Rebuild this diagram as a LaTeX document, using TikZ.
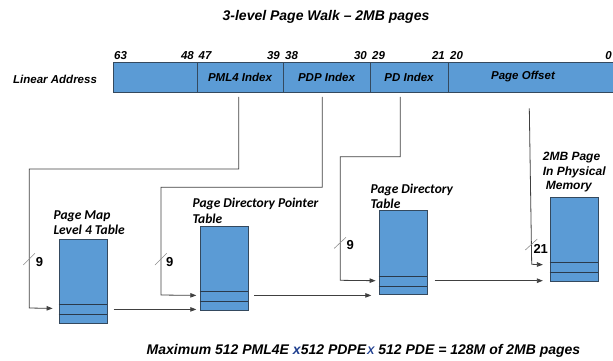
\documentclass[tikz,border=0pt]{standalone}
\usepackage{fontspec}
\setmainfont{Liberation Sans}
\newfontfamily\tblfont{Carlito}
\usetikzlibrary{arrows.meta,calc}
\definecolor{cellblue}{HTML}{5B9BD5}
\definecolor{wirecol}{HTML}{404040}
\definecolor{edgecol}{HTML}{34495E}
\definecolor{xblue}{HTML}{1F3F8F}
\definecolor{slashcol}{HTML}{8C8C8C}

\begin{document}
\begin{tikzpicture}[x=1pt,y=-1pt,
  field/.style={draw=edgecol, fill=cellblue, line width=0.8pt, minimum height=30pt,
    inner sep=0pt, font=\fontsize{11.5}{13}\selectfont\bfseries\itshape},
  tbl/.style={draw=edgecol, fill=cellblue, line width=0.8pt, minimum width=48pt,
    minimum height=84pt, inner sep=0pt},
  rowline/.style={draw=edgecol!80!black, line width=0.8pt},
  bitnum/.style={font=\fontsize{11.5}{13}\selectfont\bfseries\itshape, inner sep=0pt},
  tbllabel/.style={font=\fontsize{13.5}{14}\selectfont\tblfont\bfseries\itshape,
    inner sep=0pt, anchor=base west},
  memlabel/.style={font=\fontsize{12}{14}\selectfont\bfseries\itshape,
    inner sep=0pt, anchor=base west},
  wire/.style={draw=wirecol, line width=0.8pt},
  arr/.style={wire, -{Triangle[length=6pt,width=4.5pt]}},
  slash/.style={draw=slashcol, line width=0.6pt},
  width9/.style={font=\fontsize{13}{15}\selectfont\bfseries, inner sep=0pt, anchor=base west}
]
\useasboundingbox (0,0) rectangle (613,360);

% title
\node[font=\fontsize{14}{16}\selectfont\bfseries\itshape, anchor=base, inner sep=0pt]
  (title) at (326,20) {3-level Page Walk -- 2MB pages};

% linear address fields
\node[font=\fontsize{11.5}{13}\selectfont\bfseries\itshape, anchor=base west, inner sep=0pt]
  (la) at (13,83) {Linear Address};
\node[field, minimum width=84pt] (hi) at (155,77) {};
\node[field, minimum width=86pt] (pml4) at (240,77) {PML4 Index};
\node[field, minimum width=87pt] (pdp) at (326.5,77) {PDP Index};
\node[field, minimum width=78pt] (pd) at (409,77) {PD Index};
\node[field, minimum width=168pt] (off) at (532,77) {};
\node[font=\fontsize{11.5}{13}\selectfont\bfseries\itshape, inner sep=0pt]
  (offtxt) at (523,77) {Page Offset};

% bit numbers
\node[bitnum, anchor=base west] (b63) at (114,59) {63};
\node[bitnum, anchor=base east] (b48) at (194,59) {48};
\node[bitnum, anchor=base west] (b47) at (198.5,59) {47};
\node[bitnum, anchor=base east] (b39) at (280,59) {39};
\node[bitnum, anchor=base west] (b38) at (285,59) {38};
\node[bitnum, anchor=base east] (b30) at (367,59) {30};
\node[bitnum, anchor=base west] (b29) at (372,59) {29};
\node[bitnum, anchor=base east] (b21) at (445,59) {21};
\node[bitnum, anchor=base west] (b20) at (450,59) {20};
\node[bitnum, anchor=base east] (b0) at (612,59) {0};

% tables
\node[tbl] (t1) at (83,281) {};
\node[tbl] (t2) at (224,268) {};
\node[tbl] (t3) at (403,252.5) {};
\node[tbl] (t4) at (574,239) {};
\foreach \t in {t1,t2,t3,t4}{
  \draw[rowline] ($(\t.south west)+(0,-19)$) -- ($(\t.south east)+(0,-19)$);
  \draw[rowline] ($(\t.south west)+(0,-9)$) -- ($(\t.south east)+(0,-9)$);
}

% table captions
\node[tbllabel] (c1a) at (53.3,219.3) {Page Map};
\node[tbllabel] (c1b) at (53.3,234.3) {Level 4 Table};
\node[tbllabel] (c2a) at (192.3,207.3) {Page Directory Pointer};
\node[tbllabel] (c2b) at (192.3,223.3) {Table};
\node[tbllabel] (c3a) at (370.3,193.3) {Page Directory};
\node[tbllabel] (c3b) at (370.3,208) {Table};
\node[memlabel] (c4a) at (542.7,160.7) {2MB Page};
\node[memlabel] (c4b) at (542.7,175) {In Physical};
\node[memlabel] (c4c) at (545.7,189.3) {Memory};

% index connectors
\coordinate (s1) at ($(pml4.south)+(-1.3,4.5)$);
\coordinate (s2) at ($(pdp.south)+(-4.2,4.5)$);
\coordinate (s3) at ($(pd.south)+(-8.7,4.5)$);
\coordinate (s4) at (529.3,108.3);

\draw[arr] (s1) -- (s1 |- 0,169) -- (29.3,169) -- (29.3,308)
  -- ($(t1.south west)+(-6,-15)$);
\draw[arr] (s2) -- (s2 |- 0,187.3) -- (161,187.3) -- (161,295)
  -- ($(t2.south west)+(-3.3,-15)$);
\draw[arr] (s3) -- (s3 |- 0,156.7) -- (340.3,156.7) -- (340.3,280.3)
  -- ($(t3.south west)+(-3,-14.2)$);
\draw[arr] (s4) -- (531.7,264.3) -- ($(t4.south west)+(-6.7,-16.7)$);

% table-to-table connectors
\draw[arr] ($(t1.south east)+(6.3,-14)$) -- ($(t2.south west)+(-3.3,-1)$);
\draw[arr] ($(t2.south east)+(6,-15)$) -- ($(t3.south west)+(-7.3,0.5)$);
\draw[arr] ($(t3.south east)+(7.3,-14.2)$) -- ($(t4.south west)+(-6.7,-0.7)$);

% bus-width marks
\draw[slash] (23.3,265) -- (35,253.3);
\node[width9] (w1) at (35.7,266) {9};
\draw[slash] (155,265) -- (166.7,253.3);
\node[width9] (w2) at (166,266) {9};
\draw[slash] (334.3,248.3) -- (346,237.3);
\node[width9] (w3) at (346.3,249.3) {9};
\draw[slash] (525.3,250) -- (537.3,239);
\node[width9] (w4) at (533.3,253.3) {21};

% summary line
\node[font=\fontsize{14}{16}\selectfont\bfseries\itshape, anchor=base, inner sep=0pt]
  (sum) at (363.5,354) {Maximum 512 PML4E {\color{xblue}x}512 PDPE\kern1pt{\color{xblue}\fontsize{11}{13}\selectfont X} 512 PDE = 128M of 2MB pages};
\end{tikzpicture}
\end{document}
